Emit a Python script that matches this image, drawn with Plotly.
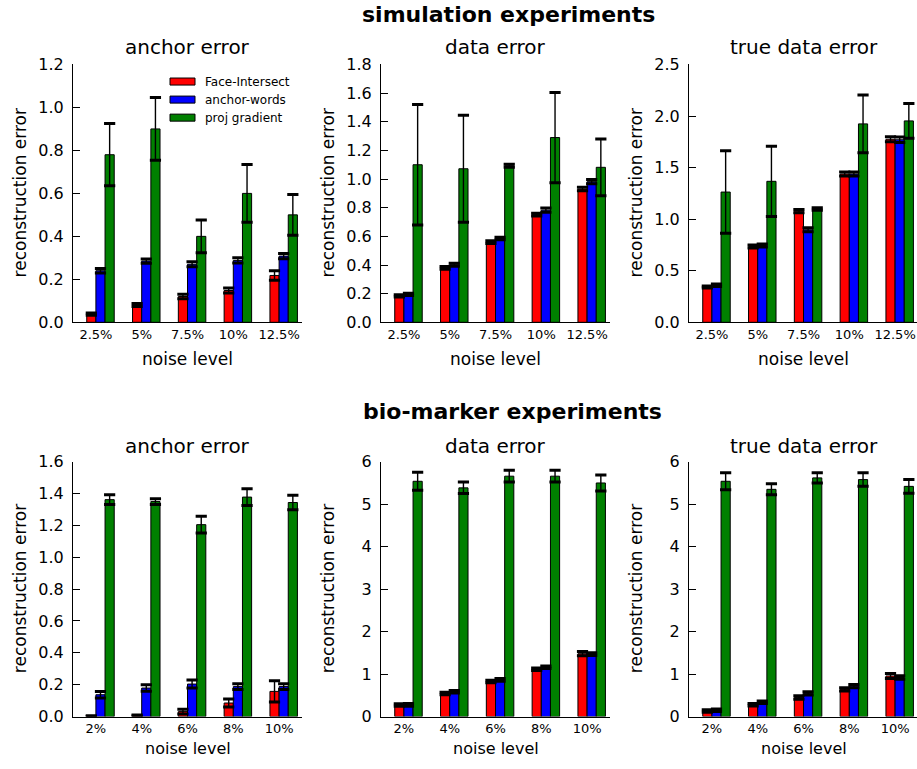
import plotly.graph_objects as go

# ---------------- data ----------------
sim_labels = ["2.5%", "5%", "7.5%", "10%", "12.5%"]
bio_labels = ["2%", "4%", "6%", "8%", "10%"]
methods = ["Face-Intersect", "anchor-words", "proj gradient"]
colors = ["#ff0000", "#0000ff", "#008000"]

# simulation experiments
sim_anchor_fi = [0.038, 0.080, 0.120, 0.148, 0.218]
sim_anchor_fi_err = [0.005, 0.007, 0.010, 0.012, 0.022]
sim_anchor_aw = [0.240, 0.285, 0.270, 0.288, 0.308]
sim_anchor_aw_err = [0.010, 0.010, 0.012, 0.012, 0.012]
sim_anchor_pg = [0.780, 0.900, 0.400, 0.600, 0.500]
sim_anchor_pg_err = [0.145, 0.146, 0.076, 0.134, 0.095]

sim_data_fi = [0.185, 0.380, 0.560, 0.752, 0.930]
sim_data_fi_err = [0.008, 0.010, 0.010, 0.010, 0.012]
sim_data_aw = [0.195, 0.402, 0.585, 0.783, 0.982]
sim_data_aw_err = [0.008, 0.010, 0.008, 0.015, 0.015]
sim_data_pg = [1.100, 1.072, 1.093, 1.290, 1.082]
sim_data_pg_err = [0.420, 0.373, 0.010, 0.315, 0.198]

sim_true_fi = [0.343, 0.735, 1.078, 1.438, 1.775]
sim_true_fi_err = [0.010, 0.015, 0.015, 0.020, 0.025]
sim_true_aw = [0.360, 0.745, 0.897, 1.438, 1.770]
sim_true_aw_err = [0.012, 0.015, 0.020, 0.020, 0.027]
sim_true_pg = [1.263, 1.367, 1.098, 1.924, 1.953]
sim_true_pg_err = [0.400, 0.340, 0.012, 0.280, 0.168]

# bio-marker experiments
bio_anchor_fi = [0.003, 0.006, 0.031, 0.085, 0.158]
bio_anchor_fi_err = [0.002, 0.003, 0.015, 0.025, 0.066]
bio_anchor_aw = [0.137, 0.179, 0.204, 0.188, 0.188]
bio_anchor_aw_err = [0.020, 0.020, 0.025, 0.018, 0.018]
bio_anchor_pg = [1.362, 1.350, 1.205, 1.378, 1.344]
bio_anchor_pg_err = [0.030, 0.018, 0.052, 0.052, 0.046]

bio_data_fi = [0.270, 0.545, 0.825, 1.113, 1.480]
bio_data_fi_err = [0.030, 0.030, 0.030, 0.030, 0.050]
bio_data_aw = [0.275, 0.585, 0.864, 1.160, 1.470]
bio_data_aw_err = [0.030, 0.030, 0.030, 0.030, 0.030]
bio_data_pg = [5.540, 5.385, 5.660, 5.660, 5.500]
bio_data_pg_err = [0.210, 0.135, 0.140, 0.140, 0.190]

bio_true_fi = [0.130, 0.280, 0.450, 0.640, 0.955]
bio_true_fi_err = [0.030, 0.030, 0.040, 0.040, 0.060]
bio_true_aw = [0.150, 0.335, 0.545, 0.716, 0.920]
bio_true_aw_err = [0.030, 0.030, 0.040, 0.040, 0.040]
bio_true_pg = [5.540, 5.350, 5.620, 5.580, 5.420]
bio_true_pg_err = [0.200, 0.130, 0.120, 0.160, 0.160]

panels = [
    dict(title="anchor error", labels=sim_labels,
         series=[(sim_anchor_fi, sim_anchor_fi_err), (sim_anchor_aw, sim_anchor_aw_err), (sim_anchor_pg, sim_anchor_pg_err)],
         yrange=[0, 1.2], dtick=0.2, fmt=".1f"),
    dict(title="data error", labels=sim_labels,
         series=[(sim_data_fi, sim_data_fi_err), (sim_data_aw, sim_data_aw_err), (sim_data_pg, sim_data_pg_err)],
         yrange=[0, 1.8], dtick=0.2, fmt=".1f"),
    dict(title="true data error", labels=sim_labels,
         series=[(sim_true_fi, sim_true_fi_err), (sim_true_aw, sim_true_aw_err), (sim_true_pg, sim_true_pg_err)],
         yrange=[0, 2.5], dtick=0.5, fmt=".1f"),
    dict(title="anchor error", labels=bio_labels,
         series=[(bio_anchor_fi, bio_anchor_fi_err), (bio_anchor_aw, bio_anchor_aw_err), (bio_anchor_pg, bio_anchor_pg_err)],
         yrange=[0, 1.6], dtick=0.2, fmt=".1f"),
    dict(title="data error", labels=bio_labels,
         series=[(bio_data_fi, bio_data_fi_err), (bio_data_aw, bio_data_aw_err), (bio_data_pg, bio_data_pg_err)],
         yrange=[0, 6], dtick=1, fmt="d"),
    dict(title="true data error", labels=bio_labels,
         series=[(bio_true_fi, bio_true_fi_err), (bio_true_aw, bio_true_aw_err), (bio_true_pg, bio_true_pg_err)],
         yrange=[0, 6], dtick=1, fmt="d"),
]

# ---------------- layout geometry (target pixels in the final picture) ----------------
W, H = 917, 769
V_SCALE, V_OFF = 0.9722, 11.0   # measured vertical mapping of page -> picture
BAR_W = 0.2
col_left = [73, 381, 689]
AX_W = 229
UNIT = AX_W / 5.0
row_top = [66, 462]
row_bot = [323, 716]
row_title = [49, 446]

def px_x(p):
    return p / W

def px_y(t):
    page = t / V_SCALE - V_OFF
    page = min(max(page, 0.0), H)
    return 1 - page / H

FONT = "DejaVu Sans"
fig = go.Figure()
layout_axes = {}
annotations = []

for k, pan in enumerate(panels):
    r, c = divmod(k, 3)
    idx = "" if k == 0 else str(k + 1)
    xa, ya = "x" + idx, "y" + idx
    left = col_left[c]
    right = min(left + AX_W, W)
    xr = [-0.3, -0.3 + (right - left) / UNIT]
    n = len(pan["labels"])
    for j, ((vals, errs), col, name) in enumerate(zip(pan["series"], colors, methods)):
        xs = [i + BAR_W * j + BAR_W / 2 for i in range(n)]
        fig.add_trace(go.Bar(
            x=xs, y=vals, width=BAR_W, name=name, showlegend=False,
            marker=dict(color=col, line=dict(color="black", width=1)),
            error_y=dict(type="data", array=errs, visible=True, color="black",
                         thickness=1.4, width=0),
            xaxis=xa, yaxis=ya,
        ))
        caps_x = xs + xs
        caps_y = [v + e for v, e in zip(vals, errs)] + [v - e for v, e in zip(vals, errs)]
        fig.add_trace(go.Scatter(
            x=caps_x, y=caps_y, mode="markers", showlegend=False, hoverinfo="skip",
            marker=dict(symbol="line-ew", size=8, line=dict(color="black", width=3)),
            xaxis=xa, yaxis=ya,
        ))
    layout_axes["xaxis" + idx] = dict(
        domain=[px_x(left), px_x(right)], range=xr, anchor=ya,
        tickmode="array", tickvals=[i + BAR_W for i in range(n)], ticktext=pan["labels"],
        ticks="", showline=True, linecolor="black", linewidth=1, showgrid=False,
        zeroline=False, tickfont=dict(family=FONT, size=13, color="black"),
        fixedrange=True,
    )
    layout_axes["yaxis" + idx] = dict(
        domain=[px_y(row_bot[r]), px_y(row_top[r])], range=pan["yrange"], anchor=xa,
        tickmode="linear", tick0=0, dtick=pan["dtick"], tickformat=pan["fmt"],
        ticks="inside", ticklen=7, tickcolor="black", tickwidth=1,
        showline=True, linecolor="black", linewidth=1, showgrid=False, zeroline=False,
        tickfont=dict(family=FONT, size=16, color="black"), ticklabelstandoff=5,
        fixedrange=True,
    )
    cx = (left + left + AX_W) / 2
    annotations.append(dict(text=pan["title"], x=px_x(cx), y=px_y(row_title[r]),
                            xref="paper", yref="paper", showarrow=False,
                            xanchor="center", yanchor="middle",
                            font=dict(family=FONT, size=20, color="black")))
    if r == 0:
        nl = dict(y=px_y(row_bot[r] + 37), yanchor="middle", font=dict(family=FONT, size=17, color="black"))
    else:
        nl = dict(y=0, yanchor="bottom", borderpad=0, font=dict(family=FONT, size=16, color="black"))
    annotations.append(dict(text="noise level", x=px_x(cx), xref="paper", yref="paper",
                            showarrow=False, xanchor="center", **nl))
    annotations.append(dict(text="reconstruction error", x=px_x(left - 53), y=px_y((row_top[r] + row_bot[r]) / 2),
                            xref="paper", yref="paper", showarrow=False, textangle=-90,
                            xanchor="center", yanchor="middle",
                            font=dict(family=FONT, size=17, color="black")))

annotations.append(dict(text="<b>simulation experiments</b>", x=px_x(509), y=px_y(16),
                        xref="paper", yref="paper", showarrow=False,
                        xanchor="center", yanchor="middle",
                        font=dict(family=FONT, size=22, color="black")))
annotations.append(dict(text="<b>bio-marker experiments</b>", x=px_x(512), y=px_y(412),
                        xref="paper", yref="paper", showarrow=False,
                        xanchor="center", yanchor="middle",
                        font=dict(family=FONT, size=22, color="black")))

# legend (drawn inside the first panel)
shapes = []
leg_rows = [83, 101, 119]
for name, col, yc in zip(methods, colors, leg_rows):
    shapes.append(dict(type="rect", xref="paper", yref="paper",
                       x0=px_x(170), x1=px_x(195), y0=px_y(yc + 3.5), y1=px_y(yc - 3.5),
                       fillcolor=col, line=dict(color="black", width=1)))
    annotations.append(dict(text=name, x=px_x(203), y=px_y(yc), xref="paper", yref="paper",
                            showarrow=False, xanchor="left", yanchor="middle",
                            font=dict(family=FONT, size=12, color="black")))

fig.update_layout(
    width=W, height=H, margin=dict(l=0, r=0, t=0, b=0),
    paper_bgcolor="white", plot_bgcolor="white",
    barmode="overlay", showlegend=False,
    annotations=annotations, shapes=shapes,
    **layout_axes,
)

fig.write_html("out.html", config={"responsive": False, "displayModeBar": False},
               post_script="document.body.style.margin='0';document.body.style.overflow='hidden';")
